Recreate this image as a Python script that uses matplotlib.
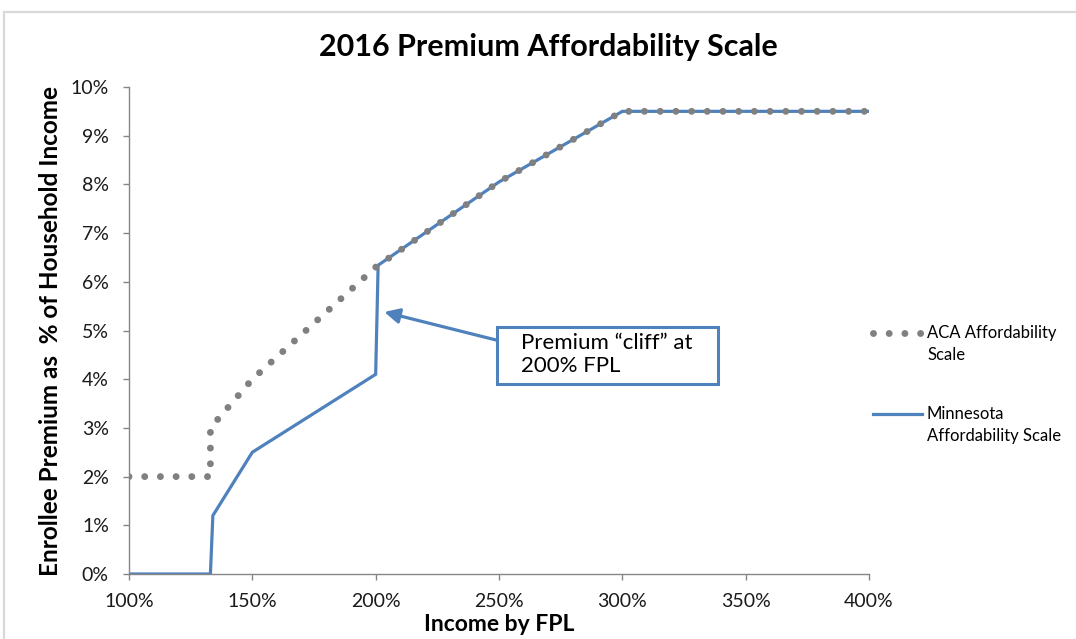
import matplotlib
matplotlib.use("Agg")
import matplotlib.pyplot as plt
from matplotlib.lines import Line2D
from matplotlib.patches import Rectangle
from matplotlib.ticker import FuncFormatter

plt.rcParams["font.family"] = ["Lato", "DejaVu Sans"]

# ---------------------------------------------------------------------------
# Data (income as % FPL, premium as % of household income)
# ---------------------------------------------------------------------------
aca_fpl = [100, 133, 133, 150, 200, 250, 300, 400]
aca_pct = [2.0, 2.0, 3.0, 4.0, 6.3, 8.05, 9.5, 9.5]

mn_fpl = [100, 133, 134, 150, 200, 201, 250, 300, 400]
mn_pct = [0.0, 0.0, 1.2, 2.5, 4.1, 6.34, 8.05, 9.5, 9.5]

x_ticks = [100, 150, 200, 250, 300, 350, 400]
y_ticks = [0, 1, 2, 3, 4, 5, 6, 7, 8, 9, 10]

BLUE = "#4f81bd"
GRAY = "#808080"
AXIS = "#868686"
ACA_STYLE = dict(color=GRAY, lw=5.0, linestyle=(0, (0.001, 2.26)),
                 dash_capstyle="round")
MN_STYLE = dict(color=BLUE, lw=2.3, solid_joinstyle="miter")

W, H = 1076, 639
fig = plt.figure(figsize=(W / 100, H / 100), dpi=100)
ax = fig.add_axes([129 / W, 65 / H, 740 / W, 487 / H])

# chart frame
fig.patches.append(Rectangle((4 / W, -0.05), 1.1, (H - 12) / H + 0.05,
                             transform=fig.transFigure, fill=False,
                             ec="#d9d9d9", lw=1.6))

ax.plot(mn_fpl, mn_pct, zorder=2, **MN_STYLE)
ax.plot(aca_fpl, aca_pct, zorder=3, **ACA_STYLE)

ax.set_xlim(100, 400)
ax.set_ylim(0, 10)
ax.set_xticks(x_ticks)
ax.set_yticks(y_ticks)
ax.xaxis.set_major_formatter(FuncFormatter(lambda v, p: f"{v:.0f}%"))
ax.yaxis.set_major_formatter(FuncFormatter(lambda v, p: f"{v:.0f}%"))
ax.tick_params(axis="both", direction="out", length=4.5, width=1,
               color=AXIS, labelsize=14, labelcolor="#1a1a1a")
ax.tick_params(axis="x", pad=9)
ax.tick_params(axis="y", pad=10)

for side in ["top", "right"]:
    ax.spines[side].set_visible(False)
for side in ["left", "bottom"]:
    ax.spines[side].set_color(AXIS)
    ax.spines[side].set_linewidth(1)

fig.text(548 / W, 1 - 47 / H, "2016 Premium Affordability Scale",
         fontsize=22, fontweight="bold", ha="center", va="center")
ax.set_xlabel("Income by FPL", fontsize=16.5, fontweight="bold", labelpad=3)
ax.set_ylabel("Enrollee Premium as  % of Household Income", fontsize=17.5,
              fontweight="bold", labelpad=6)

# legend (handles aligned with the first line of each label, as in Excel)
legend_items = [(ACA_STYLE, "ACA Affordability\nScale", 333),
                (MN_STYLE, "Minnesota\nAffordability Scale", 414)]
for style, label, ypx in legend_items:
    yf = 1 - ypx / H
    fig.add_artist(Line2D([873 / W, 922 / W], [yf, yf],
                          transform=fig.transFigure, **style))
    fig.text(927 / W, 1 - (ypx - 8) / H, label, fontsize=12, ha="left",
             va="top", linespacing=1.45, transform=fig.transFigure)

# callout
ax.add_patch(Rectangle((249.2, 3.9), 89.6, 1.17, fill=True, fc="white",
                       ec=BLUE, lw=2.2, zorder=4, clip_on=False))
ax.text(258.8, 4.50, "Premium \u201ccliff\u201d at\n200% FPL", fontsize=16,
        va="center", ha="left", linespacing=1.2, zorder=5)
ax.annotate("", xy=(203.5, 5.38), xytext=(249.2, 4.8),
            arrowprops=dict(arrowstyle="-|>,head_length=0.9,head_width=0.45",
                            color=BLUE, lw=2.3, shrinkA=0, shrinkB=0),
            zorder=4)

fig.savefig("out.png", dpi=100)
